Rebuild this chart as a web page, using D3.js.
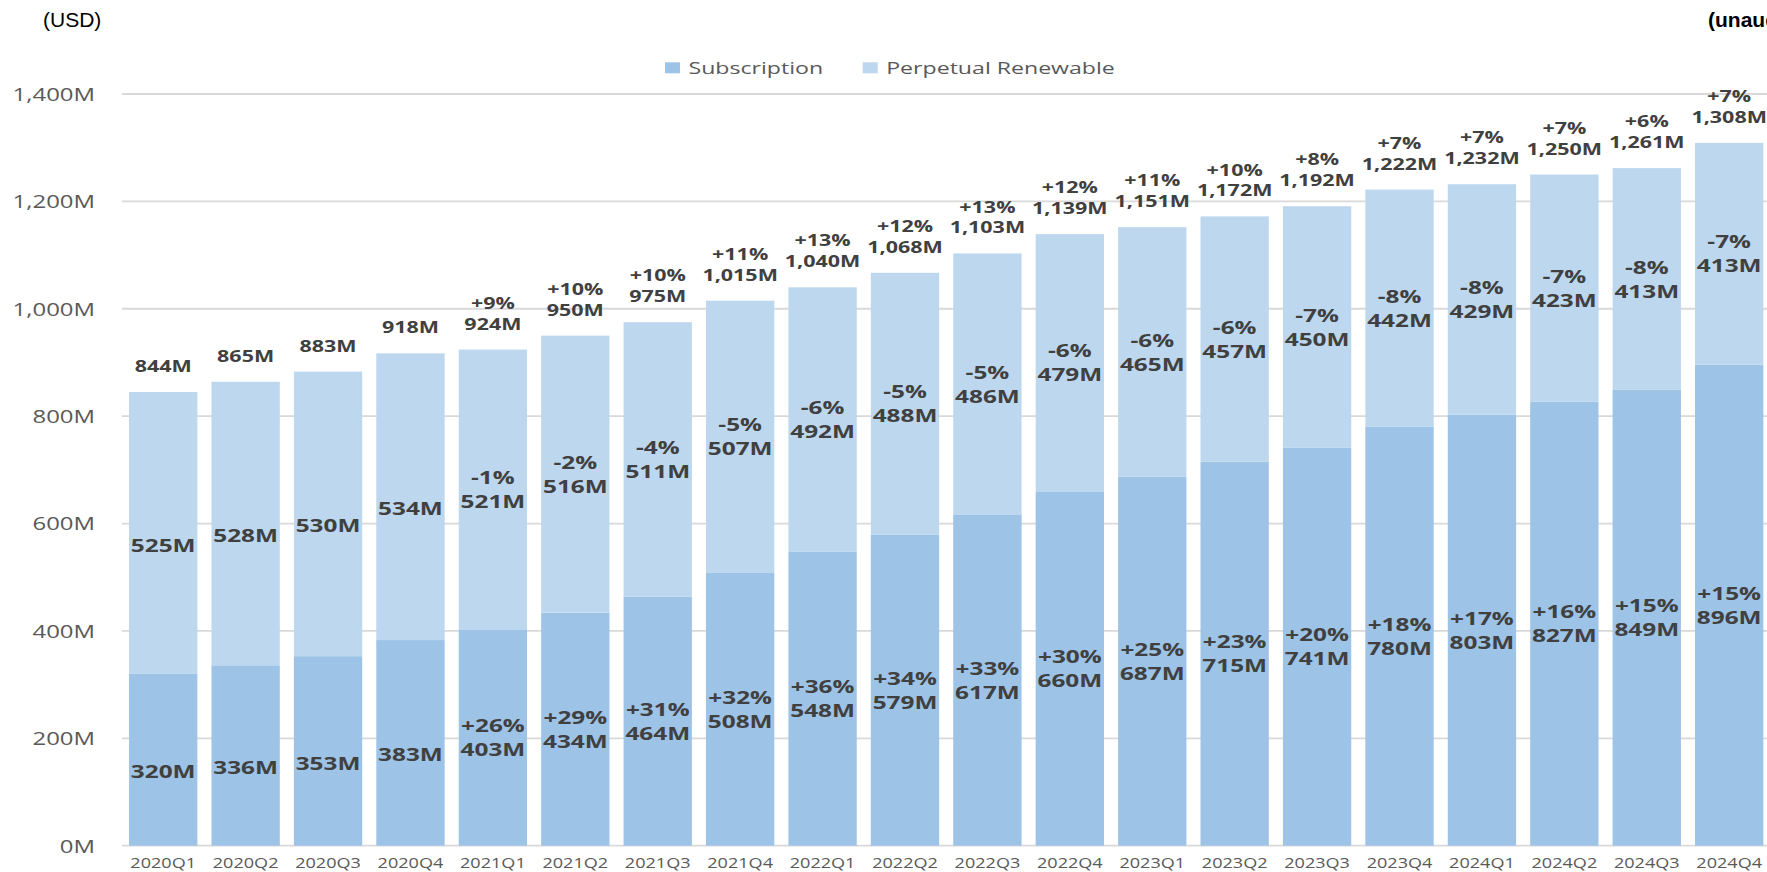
<!DOCTYPE html>
<html>
<head>
<meta charset="utf-8">
<script src="https://cdn.jsdelivr.net/npm/d3@7"></script>
<style>
  html, body { margin: 0; padding: 0; background: #fff; overflow: hidden; }
  svg { display: block; }
</style>
</head>
<body>
<svg id="chart" width="1767" height="872"></svg>
<script>
// ---- data ----
const quarters = ["2020Q1","2020Q2","2020Q3","2020Q4","2021Q1","2021Q2","2021Q3","2021Q4",
  "2022Q1","2022Q2","2022Q3","2022Q4","2023Q1","2023Q2","2023Q3","2023Q4",
  "2024Q1","2024Q2","2024Q3","2024Q4"];
const subscription = [320,336,353,383,403,434,464,508,548,579,617,660,687,715,741,780,803,827,849,896];
const subscriptionGrowth = ["","","","","+26%","+29%","+31%","+32%","+36%","+34%","+33%","+30%",
  "+25%","+23%","+20%","+18%","+17%","+16%","+15%","+15%"];
const perpetual = [525,528,530,534,521,516,511,507,492,488,486,479,465,457,450,442,429,423,413,413];
const perpetualGrowth = ["","","","","-1%","-2%","-4%","-5%","-6%","-5%","-5%","-6%",
  "-6%","-6%","-7%","-8%","-8%","-7%","-8%","-7%"];
const totals = [844,865,883,918,924,950,975,1015,1040,1068,1103,1139,1151,1172,1192,1222,1232,1250,1261,1308];
const totalGrowth = ["","","","","+9%","+10%","+10%","+11%","+13%","+12%","+13%","+12%",
  "+11%","+10%","+8%","+7%","+7%","+7%","+6%","+7%"];
const yTicks = [0,200,400,600,800,1000,1200,1400];
const seriesNames = ["Subscription","Perpetual Renewable"];
const seriesColors = ["#9DC3E6","#BDD7EE"];

// ---- layout ----
const W = 1767, H = 872;
const SX = 1.31; // horizontal stretch of the original chart text
const svg = d3.select("#chart");
const x = d3.scaleBand().domain(quarters).range([122, 1770.4]).paddingInner(0.171).paddingOuter(0.0855);
const y = d3.scaleLinear().domain([0, 1400]).range([845.7, 94]);
const labelColor = "#404040";
const axisColor = "#595959";

// gridlines
svg.append("g").selectAll("line").data(yTicks).join("line")
  .attr("x1", 122).attr("x2", W)
  .attr("y1", d => y(d)).attr("y2", d => y(d))
  .attr("stroke", "#D9D9D9").attr("stroke-width", 1.8);

// y axis labels
const yAxis = svg.append("g").attr("transform", "translate(122,0)")
  .call(d3.axisLeft(y).tickValues(yTicks).tickSize(0).tickFormat(d => d3.format(",")(d) + "M"));
yAxis.select(".domain").remove();
yAxis.selectAll("text")
  .attr("x", null).attr("dy", null)
  .attr("transform", "translate(-27,6.4) scale(1.33,1)")
  .attr("text-anchor", "end")
  .style("font-family", "'Open Sans'").style("font-size", "18px").style("fill", axisColor);

// x axis labels
const xAxis = svg.append("g").attr("transform", "translate(0,845.7)")
  .call(d3.axisBottom(x).tickSize(0));
xAxis.select(".domain").remove();
xAxis.selectAll("text")
  .attr("y", null).attr("dy", null)
  .attr("transform", "translate(0,22.5) scale(1.31,1)")
  .attr("text-anchor", "middle")
  .style("font-family", "'Open Sans'").style("font-size", "13.8px").style("fill", axisColor);

// stacked bars
const rows = quarters.map((q, i) => ({ q, sub: subscription[i], perp: perpetual[i] }));
const stack = d3.stack().keys(["sub", "perp"])(rows);
svg.append("g").selectAll("g").data(stack).join("g")
  .attr("fill", (d, i) => seriesColors[i])
  .selectAll("rect").data(d => d).join("rect")
  .attr("x", d => x(d.data.q))
  .attr("width", x.bandwidth())
  .attr("y", d => y(d[1]))
  .attr("height", d => y(d[0]) - y(d[1]));

function label(g, cx, by, txt, size) {
  g.append("text")
    .attr("transform", `translate(${cx},${by}) scale(${SX},1)`)
    .attr("text-anchor", "middle")
    .style("font-family", "'Open Sans'").style("font-weight", "bold")
    .style("font-size", size + "px").style("fill", labelColor)
    .text(txt);
}

const lg = svg.append("g");
// segment labels
stack.forEach((layer, si) => {
  const growth = si === 0 ? subscriptionGrowth : perpetualGrowth;
  const vals = si === 0 ? subscription : perpetual;
  layer.forEach((d, i) => {
    const cx = x(d.data.q) + x.bandwidth() / 2;
    const mid = (y(d[0]) + y(d[1])) / 2;
    if (growth[i]) label(lg, cx, mid - 5.4, growth[i], 18.6);
    label(lg, cx, mid + 18.6, vals[i] + "M", 18.6);
  });
});
// total labels
totals.forEach((t, i) => {
  const cx = x(quarters[i]) + x.bandwidth() / 2;
  const top = y(subscription[i] + perpetual[i]);
  label(lg, cx, top - 20, d3.format(",")(t) + "M", 16.4);
  if (totalGrowth[i]) label(lg, cx, top - 40.8, totalGrowth[i], 16.4);
});

// legend
const legend = svg.append("g");
const legX = [665, 862.7];
seriesNames.forEach((name, i) => {
  legend.append("rect").attr("x", legX[i]).attr("y", 62.3).attr("width", 15).attr("height", 11)
    .attr("fill", seriesColors[i]);
  legend.append("text")
    .attr("transform", `translate(${legX[i] + 23.5},73.5) scale(1.36,1)`)
    .style("font-family", "'Open Sans'").style("font-size", "17px").style("fill", axisColor)
    .text(name);
});

// outer texts
svg.append("text").attr("x", 43).attr("y", 26.7)
  .style("font-family", "'Liberation Sans', Arial").style("font-size", "21px").style("fill", "#000")
  .text("(USD)");
svg.append("text").attr("x", 1708).attr("y", 26.7)
  .style("font-family", "'Liberation Sans', Arial").style("font-weight", "bold")
  .style("font-size", "21px").style("fill", "#000")
  .text("(unaudited)");
</script>
</body>
</html>
